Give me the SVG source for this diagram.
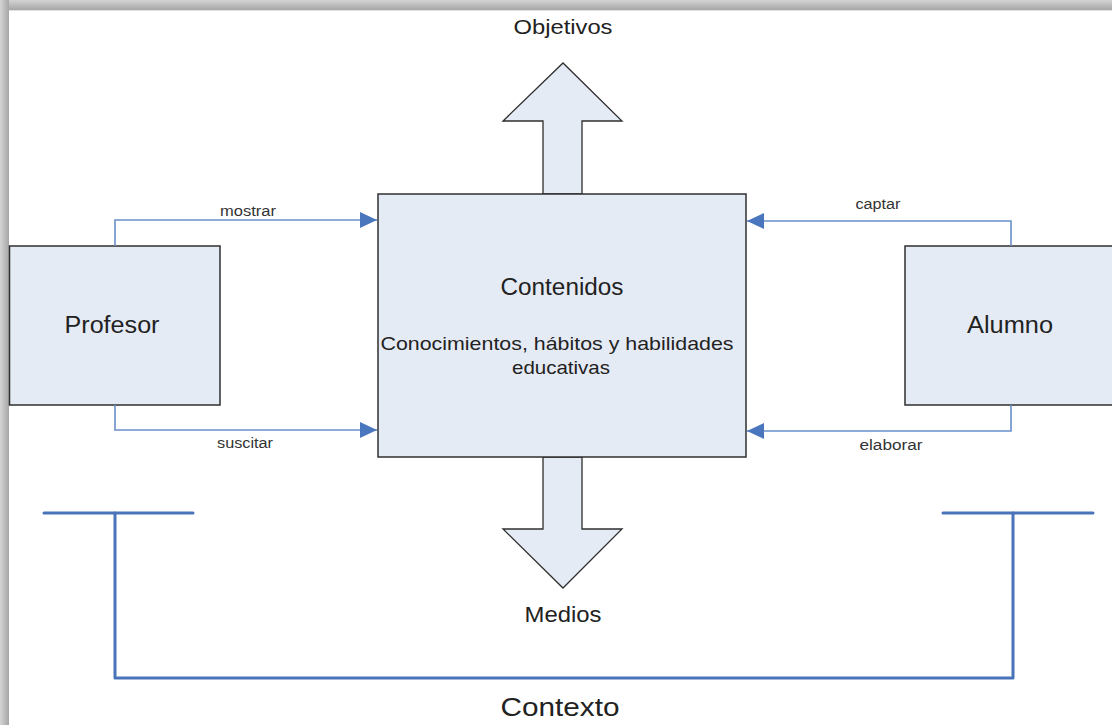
<svg xmlns="http://www.w3.org/2000/svg" width="1112" height="725" viewBox="0 0 1112 725">
  <defs>
    <linearGradient id="topShade" x1="0" y1="0" x2="0" y2="1">
      <stop offset="0" stop-color="#d4d4d4"/>
      <stop offset="1" stop-color="#a6a6a6"/>
    </linearGradient>
    <linearGradient id="leftShade" x1="0" y1="0" x2="1" y2="0">
      <stop offset="0" stop-color="#d4d4d4"/>
      <stop offset="1" stop-color="#a6a6a6"/>
    </linearGradient>
    <marker id="arr" markerUnits="userSpaceOnUse" markerWidth="18" markerHeight="16" viewBox="0 0 18 16" refX="17" refY="8" orient="auto">
      <path d="M0,0 L17,8 L0,16 Z" fill="#4a76bd"/>
    </marker>
    <style>
      .box { fill: #e5ebf5; stroke: #2f2f2f; stroke-width: 1.5; }
      .bigarrow { fill: #e5ebf5; stroke: #2f2f2f; stroke-width: 1.3; stroke-linejoin: miter; }
      .conn { fill: none; stroke: #6a8fca; stroke-width: 1.6; }
      .ctx { fill: none; stroke: #4a74ba; stroke-width: 3; stroke-linecap: round; stroke-linejoin: round; }
      text { font-family: "Liberation Sans", Arial, sans-serif; fill: #222; text-anchor: middle; }
      .lbl { font-size: 14px; fill: #333; }
      .big { font-size: 22px; }
      .mid { font-size: 20px; }
    </style>
  </defs>

  <!-- frame with shadow -->
  <rect x="0" y="0" width="1112" height="725" fill="#ffffff"/>
  <rect x="0" y="0" width="1112" height="10" fill="url(#topShade)"/>
  <rect x="0" y="0" width="9" height="725" fill="url(#leftShade)"/>
  <rect x="9" y="10" width="1103" height="715" fill="#ffffff"/>
  <line x1="9" y1="10.5" x2="1112" y2="10.5" stroke="#e2e2e2" stroke-width="1"/>

  <!-- context bracket -->
  <g id="contexto">
    <path class="ctx" d="M44,513 H193"/>
    <path class="ctx" d="M943,513 H1093"/>
    <path class="ctx" d="M115,513 V678 H1013 V513"/>
    <text x="560" y="716" font-size="25" textLength="119" lengthAdjust="spacingAndGlyphs">Contexto</text>
  </g>

  <!-- big arrows -->
  <g id="objetivos">
    <path class="bigarrow" d="M543,194 V121 H503 L563,63 L622,121 H582 V194 Z"/>
    <text x="563" y="34" font-size="21" textLength="99" lengthAdjust="spacingAndGlyphs">Objetivos</text>
  </g>
  <g id="medios">
    <path class="bigarrow" d="M543,457 V529 H503 L563,588 L622,529 H582 V457 Z"/>
    <text x="563" y="622" font-size="22" textLength="77" lengthAdjust="spacingAndGlyphs">Medios</text>
  </g>

  <!-- central node -->
  <g id="contenidos">
    <rect class="box" x="378" y="194" width="368" height="263"/>
    <text x="562" y="295" font-size="23" textLength="123" lengthAdjust="spacingAndGlyphs">Contenidos</text>
    <text x="557" y="350" font-size="19" textLength="353" lengthAdjust="spacingAndGlyphs">Conocimientos, hábitos y habilidades</text>
    <text x="561" y="374" font-size="19" textLength="98" lengthAdjust="spacingAndGlyphs">educativas</text>
  </g>

  <!-- side nodes -->
  <g id="profesor">
    <rect class="box" x="9.5" y="246" width="210.5" height="159"/>
    <text x="112" y="333" font-size="23" textLength="95" lengthAdjust="spacingAndGlyphs">Profesor</text>
  </g>
  <g id="alumno">
    <rect class="box" x="905" y="246" width="212" height="159"/>
    <text x="1010" y="333" font-size="23" textLength="86" lengthAdjust="spacingAndGlyphs">Alumno</text>
  </g>

  <!-- connectors -->
  <g id="connectors">
    <path class="conn" d="M115,246 V220 H377" marker-end="url(#arr)"/>
    <path class="conn" d="M115,405 V430 H377" marker-end="url(#arr)"/>
    <path class="conn" d="M1011,246 V221 H747" marker-end="url(#arr)"/>
    <path class="conn" d="M1011,405 V431 H747" marker-end="url(#arr)"/>
  </g>

  <!-- connector labels -->
  <g id="labels">
    <text class="lbl" x="248" y="216" textLength="56" lengthAdjust="spacingAndGlyphs">mostrar</text>
    <text class="lbl" x="245" y="448" textLength="56" lengthAdjust="spacingAndGlyphs">suscitar</text>
    <text class="lbl" x="878" y="209" textLength="45" lengthAdjust="spacingAndGlyphs">captar</text>
    <text class="lbl" x="891" y="450" textLength="63" lengthAdjust="spacingAndGlyphs">elaborar</text>
  </g>
</svg>
